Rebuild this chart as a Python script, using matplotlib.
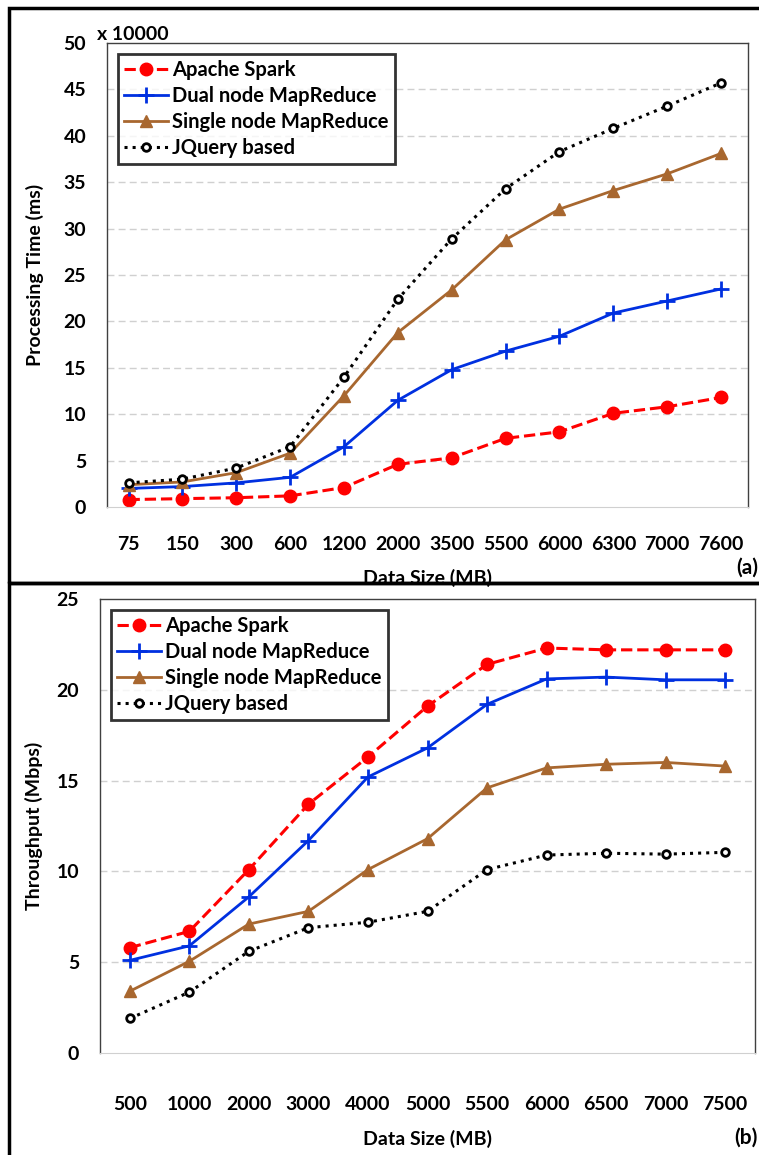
import matplotlib.pyplot as plt
from matplotlib.patches import Rectangle

plt.rcParams['font.family'] = ['Lato', 'DejaVu Sans']
plt.rcParams['font.weight'] = 'bold'
plt.rcParams['axes.labelweight'] = 'bold'

# (a) processing time, units of 10000 ms
sizes_a = ["75", "150", "300", "600", "1200", "2000", "3500", "5500", "6000", "6300", "7000", "7600"]
spark_a = [0.8, 0.9, 1.0, 1.2, 2.1, 4.6, 5.3, 7.4, 8.1, 10.1, 10.8, 11.8]
dual_a = [2.0, 2.2, 2.6, 3.2, 6.5, 11.5, 14.8, 16.8, 18.4, 20.9, 22.2, 23.5]
single_a = [2.4, 2.7, 3.7, 5.8, 12.0, 18.8, 23.4, 28.8, 32.1, 34.1, 35.9, 38.1]
jquery_a = [2.6, 3.0, 4.2, 6.5, 14.0, 22.4, 28.9, 34.3, 38.3, 40.8, 43.2, 45.7]

# (b) throughput in Mbps
sizes_b = ["500", "1000", "2000", "3000", "4000", "5000", "5500", "6000", "6500", "7000", "7500"]
spark_b = [5.8, 6.7, 10.1, 13.7, 16.3, 19.1, 21.4, 22.3, 22.2, 22.2, 22.2]
dual_b = [5.1, 5.9, 8.6, 11.7, 15.2, 16.8, 19.2, 20.6, 20.7, 20.55, 20.55]
single_b = [3.4, 5.05, 7.1, 7.8, 10.1, 11.8, 14.6, 15.7, 15.9, 16.0, 15.8]
jquery_b = [1.9, 3.35, 5.6, 6.9, 7.2, 7.8, 10.1, 10.9, 11.0, 10.95, 11.05]

labels = ["Apache Spark", "Dual node MapReduce", "Single node MapReduce", "JQuery based"]

fig = plt.figure(figsize=(7.59, 11.55), dpi=100)
W, H = 759.0, 1155.0
FS = 14


def draw_panel(ax, sizes, series, ymax, ylabel, xlim, xpad, xlpad, ylpad):
    x = list(range(len(sizes)))
    ax.plot(x, series[0], '--', color='#ff0000', lw=2.2, marker='o', ms=9,
            label=labels[0])
    ax.plot(x, series[1], '-', color='#0030e0', lw=2.0, marker='+', ms=11, mew=2,
            label=labels[1])
    ax.plot(x, series[2], '-', color='#a8672f', lw=2.0, marker='^', ms=8,
            label=labels[2])
    ax.plot(x, series[3], ':', color='black', lw=2.2, marker='o', ms=5.5, mew=2,
            mfc='white', label=labels[3])
    ax.set_xlim(*xlim)
    ax.set_ylim(0, ymax)
    ax.set_yticks(range(0, ymax + 1, 5))
    ax.set_xticks(x)
    ax.set_xticklabels(sizes)
    ax.tick_params(axis='both', length=0, labelsize=FS)
    ax.tick_params(axis='x', pad=xpad)
    ax.tick_params(axis='y', pad=15)
    for v in range(5, ymax, 5):
        ax.axhline(v, color='#d0d0d0', lw=1, ls=(0, (5, 3)), zorder=0)
    for s in ['top', 'right', 'left']:
        ax.spines[s].set_color('#404040')
        ax.spines[s].set_linewidth(1.0)
    ax.spines['bottom'].set_color('#d0d0d0')
    ax.set_xlabel("Data Size (MB)", fontsize=FS, labelpad=xlpad)
    ax.set_ylabel(ylabel, fontsize=FS, labelpad=ylpad)
    leg = ax.legend(loc='upper left', fontsize=FS + 0.5, frameon=True, fancybox=False,
                    handlelength=2.2, handletextpad=0.2, borderpad=0.3,
                    labelspacing=0.3, borderaxespad=0.55)
    leg.get_frame().set_edgecolor('black')
    leg.get_frame().set_linewidth(2)


ax1 = fig.add_axes([107 / W, 1 - 507 / H, (748 - 107) / W, (507 - 43) / H])
draw_panel(ax1, sizes_a, [spark_a, dual_a, single_a, jquery_a], 50,
           "Processing Time (ms)", (-0.4, 11.5), 21, 11, 14)
fig.text(97 / W, 1 - 35 / H, "x 10000", fontsize=FS, va='center', ha='left')
fig.text(758 / W, 1 - 568 / H, "(a)", fontsize=FS + 1, va='center', ha='right')

ax2 = fig.add_axes([100 / W, 1 - 1053 / H, (755 - 100) / W, (1053 - 599) / H])
draw_panel(ax2, sizes_b, [spark_b, dual_b, single_b, jquery_b], 25,
           "Throughput (Mbps)", (-0.5, 10.5), 31, 12, 10)
fig.text(758 / W, 1 - 1138 / H, "(b)", fontsize=FS + 1, va='center', ha='right')

# outer panel frames
fig.patches.append(Rectangle((9 / W, 1 - 583 / H), 760 / W, 575 / H, transform=fig.transFigure,
                             fill=False, edgecolor='black', lw=2.5))
fig.patches.append(Rectangle((9 / W, -0.01), 760 / W, (1155 - 583) / H + 0.01,
                             transform=fig.transFigure, fill=False, edgecolor='black', lw=2.5))

fig.savefig("out.png", dpi=100)
